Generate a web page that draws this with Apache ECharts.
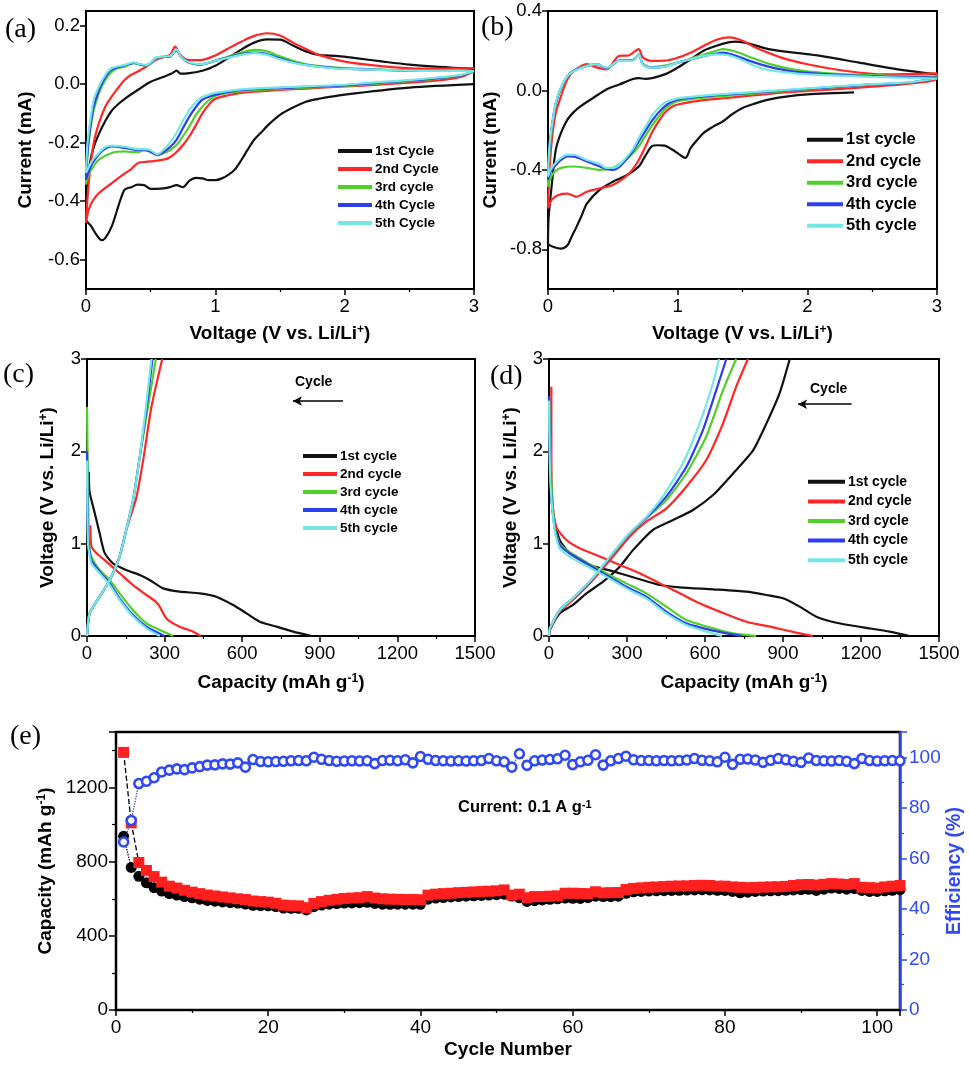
<!DOCTYPE html>
<html><head><meta charset="utf-8">
<script src="https://cdn.jsdelivr.net/npm/echarts@6/dist/echarts.min.js"></script>
<style>html,body{margin:0;padding:0;background:#fff}#c{width:969px;height:1065px}</style>
</head><body><div id="c"></div>
<script>
// ---------------- DATA ----------------
const legendA = ['1st Cycle','2nd Cycle','3rd cycle','4th Cycle','5th Cycle'];
const legendBCD = ['1st cycle','2nd cycle','3rd cycle','4th cycle','5th cycle'];

// (a) CV, [voltage, current]
const cvA1 = [[3.0,0.0],[2.5,-0.012],[2.0,-0.036],[1.8,-0.05],[1.7,-0.06],[1.6,-0.08],[1.5,-0.105],[1.42,-0.135],[1.35,-0.167],[1.3,-0.19],[1.25,-0.224],[1.2,-0.26],[1.15,-0.292],[1.1,-0.31],[1.05,-0.322],[1.0,-0.328],[0.95,-0.328],[0.9,-0.322],[0.85,-0.32],[0.8,-0.33],[0.75,-0.352],[0.7,-0.345],[0.65,-0.352],[0.6,-0.356],[0.5,-0.358],[0.45,-0.345],[0.4,-0.343],[0.35,-0.352],[0.3,-0.36],[0.27,-0.39],[0.25,-0.417],[0.2,-0.485],[0.15,-0.525],[0.12,-0.533],[0.08,-0.514],[0.04,-0.485],[0.0,-0.462],[0.01,-0.36],[0.03,-0.27],[0.06,-0.215],[0.1,-0.17],[0.15,-0.125],[0.2,-0.09],[0.25,-0.068],[0.3,-0.05],[0.4,-0.02],[0.5,0.008],[0.6,0.025],[0.67,0.038],[0.7,0.046],[0.73,0.036],[0.8,0.038],[0.9,0.046],[1.0,0.063],[1.1,0.09],[1.2,0.118],[1.3,0.142],[1.4,0.153],[1.5,0.152],[1.6,0.132],[1.7,0.112],[1.8,0.1],[1.95,0.096],[2.1,0.088],[2.3,0.077],[2.5,0.067],[2.7,0.06],[2.9,0.055],[3.0,0.052]];
const cvA2 = [[3.0,0.045],[2.9,0.025],[2.7,0.012],[2.5,0.005],[2.2,-0.003],[2.0,-0.008],[1.7,-0.015],[1.5,-0.02],[1.3,-0.026],[1.2,-0.03],[1.1,-0.038],[1.0,-0.05],[0.95,-0.07],[0.9,-0.1],[0.85,-0.14],[0.8,-0.178],[0.75,-0.208],[0.7,-0.232],[0.65,-0.25],[0.6,-0.258],[0.5,-0.264],[0.45,-0.266],[0.4,-0.27],[0.35,-0.29],[0.3,-0.305],[0.2,-0.338],[0.1,-0.372],[0.05,-0.4],[0.02,-0.43],[0.0,-0.474],[0.01,-0.4],[0.03,-0.3],[0.06,-0.2],[0.1,-0.133],[0.15,-0.076],[0.2,-0.042],[0.25,-0.012],[0.3,0.015],[0.35,0.032],[0.4,0.043],[0.45,0.055],[0.5,0.07],[0.55,0.085],[0.6,0.092],[0.65,0.1],[0.69,0.128],[0.72,0.106],[0.76,0.088],[0.8,0.082],[0.9,0.083],[1.0,0.098],[1.1,0.122],[1.2,0.145],[1.3,0.165],[1.4,0.174],[1.5,0.166],[1.6,0.142],[1.7,0.12],[1.8,0.1],[2.0,0.077],[2.3,0.061],[2.6,0.053],[3.0,0.055]];
const cvA3 = [[3.0,0.045],[2.9,0.03],[2.7,0.018],[2.5,0.01],[2.2,0.0],[2.0,-0.006],[1.7,-0.012],[1.5,-0.016],[1.2,-0.024],[1.1,-0.03],[1.0,-0.04],[0.95,-0.055],[0.9,-0.076],[0.85,-0.105],[0.8,-0.144],[0.75,-0.178],[0.7,-0.208],[0.65,-0.225],[0.6,-0.236],[0.55,-0.24],[0.5,-0.23],[0.45,-0.226],[0.4,-0.232],[0.35,-0.232],[0.3,-0.23],[0.2,-0.235],[0.1,-0.258],[0.05,-0.286],[0.02,-0.31],[0.0,-0.343],[0.01,-0.25],[0.03,-0.167],[0.06,-0.088],[0.1,-0.031],[0.15,0.015],[0.2,0.043],[0.25,0.055],[0.3,0.06],[0.37,0.072],[0.42,0.066],[0.47,0.064],[0.55,0.09],[0.6,0.093],[0.65,0.095],[0.7,0.117],[0.74,0.09],[0.8,0.072],[0.88,0.066],[1.0,0.08],[1.1,0.094],[1.2,0.108],[1.3,0.117],[1.4,0.112],[1.5,0.095],[1.6,0.08],[1.7,0.068],[1.85,0.06],[2.0,0.055],[2.5,0.047],[3.0,0.045]];
const cvA4 = [[3.0,0.045],[2.9,0.03],[2.7,0.02],[2.5,0.012],[2.2,0.003],[2.0,-0.004],[1.5,-0.013],[1.2,-0.02],[1.0,-0.036],[0.95,-0.043],[0.9,-0.053],[0.85,-0.078],[0.8,-0.11],[0.75,-0.15],[0.7,-0.19],[0.65,-0.215],[0.6,-0.232],[0.55,-0.243],[0.5,-0.232],[0.45,-0.224],[0.4,-0.225],[0.35,-0.222],[0.3,-0.218],[0.2,-0.213],[0.15,-0.22],[0.1,-0.24],[0.05,-0.27],[0.02,-0.3],[0.0,-0.326],[0.01,-0.24],[0.03,-0.155],[0.06,-0.075],[0.1,-0.02],[0.15,0.025],[0.2,0.05],[0.3,0.064],[0.37,0.073],[0.42,0.067],[0.47,0.065],[0.55,0.091],[0.65,0.095],[0.7,0.115],[0.74,0.09],[0.8,0.073],[0.88,0.067],[1.0,0.08],[1.1,0.092],[1.2,0.103],[1.3,0.108],[1.4,0.103],[1.5,0.088],[1.6,0.075],[1.7,0.066],[1.85,0.058],[2.0,0.053],[2.5,0.046],[3.0,0.045]];
const cvA5 = [[3.0,0.045],[2.9,0.032],[2.7,0.022],[2.5,0.014],[2.2,0.005],[2.0,-0.002],[1.5,-0.011],[1.2,-0.018],[1.0,-0.03],[0.95,-0.036],[0.9,-0.044],[0.85,-0.062],[0.8,-0.088],[0.75,-0.125],[0.7,-0.167],[0.65,-0.2],[0.6,-0.224],[0.55,-0.24],[0.5,-0.226],[0.45,-0.222],[0.4,-0.222],[0.35,-0.218],[0.3,-0.214],[0.2,-0.21],[0.15,-0.215],[0.1,-0.235],[0.05,-0.26],[0.02,-0.285],[0.0,-0.303],[0.01,-0.21],[0.03,-0.133],[0.06,-0.053],[0.1,-0.008],[0.15,0.032],[0.2,0.055],[0.3,0.066],[0.37,0.074],[0.42,0.068],[0.47,0.066],[0.55,0.092],[0.65,0.096],[0.7,0.118],[0.74,0.09],[0.8,0.074],[0.88,0.068],[1.0,0.08],[1.1,0.09],[1.2,0.1],[1.3,0.106],[1.4,0.1],[1.5,0.085],[1.6,0.073],[1.7,0.065],[1.85,0.057],[2.0,0.052],[2.5,0.046],[3.0,0.045]];

// (b) CV
const cvB1 = [[2.36,-0.01],[2.2,-0.014],[2.0,-0.02],[1.85,-0.03],[1.7,-0.046],[1.6,-0.065],[1.5,-0.088],[1.42,-0.12],[1.35,-0.155],[1.28,-0.18],[1.2,-0.214],[1.15,-0.25],[1.1,-0.29],[1.06,-0.34],[1.03,-0.33],[1.0,-0.316],[0.95,-0.295],[0.9,-0.278],[0.85,-0.276],[0.8,-0.282],[0.75,-0.33],[0.7,-0.383],[0.6,-0.43],[0.5,-0.46],[0.4,-0.5],[0.3,-0.57],[0.26,-0.63],[0.22,-0.687],[0.18,-0.74],[0.15,-0.78],[0.1,-0.797],[0.05,-0.79],[0.0,-0.77],[0.005,-0.64],[0.03,-0.47],[0.06,-0.3],[0.1,-0.214],[0.15,-0.147],[0.2,-0.108],[0.25,-0.08],[0.35,-0.037],[0.45,0.005],[0.55,0.03],[0.65,0.056],[0.7,0.062],[0.75,0.058],[0.9,0.081],[1.0,0.115],[1.1,0.157],[1.2,0.2],[1.3,0.225],[1.4,0.243],[1.45,0.246],[1.55,0.236],[1.7,0.208],[1.9,0.19],[2.1,0.174],[2.4,0.14],[2.7,0.106],[3.0,0.081]];
const cvB2 = [[3.0,0.086],[3.0,0.06],[2.8,0.035],[2.5,0.019],[2.2,0.005],[2.0,-0.003],[1.7,-0.017],[1.4,-0.037],[1.2,-0.049],[1.0,-0.071],[0.95,-0.085],[0.9,-0.113],[0.85,-0.16],[0.8,-0.214],[0.75,-0.285],[0.7,-0.35],[0.65,-0.4],[0.6,-0.434],[0.5,-0.476],[0.4,-0.493],[0.3,-0.51],[0.22,-0.535],[0.15,-0.52],[0.08,-0.527],[0.03,-0.55],[0.0,-0.594],[0.01,-0.417],[0.03,-0.248],[0.06,-0.113],[0.1,-0.029],[0.15,0.056],[0.2,0.098],[0.3,0.132],[0.38,0.115],[0.45,0.106],[0.55,0.174],[0.62,0.176],[0.7,0.208],[0.73,0.168],[0.8,0.149],[0.9,0.15],[1.0,0.165],[1.1,0.19],[1.2,0.224],[1.3,0.255],[1.4,0.267],[1.5,0.25],[1.6,0.216],[1.8,0.165],[2.0,0.132],[2.3,0.098],[2.6,0.081],[3.0,0.086]];
const cvB3 = [[3.0,0.07],[2.8,0.04],[2.5,0.03],[2.0,0.005],[1.5,-0.02],[1.2,-0.037],[1.0,-0.054],[0.95,-0.07],[0.9,-0.096],[0.85,-0.135],[0.8,-0.18],[0.75,-0.23],[0.7,-0.282],[0.65,-0.32],[0.6,-0.35],[0.5,-0.39],[0.4,-0.4],[0.3,-0.39],[0.2,-0.383],[0.1,-0.39],[0.05,-0.41],[0.02,-0.44],[0.0,-0.485],[0.01,-0.33],[0.03,-0.19],[0.06,-0.07],[0.1,0.01],[0.15,0.07],[0.2,0.1],[0.3,0.125],[0.38,0.13],[0.45,0.11],[0.55,0.15],[0.65,0.152],[0.7,0.18],[0.73,0.135],[0.8,0.118],[0.9,0.125],[1.0,0.14],[1.1,0.16],[1.2,0.18],[1.3,0.2],[1.35,0.208],[1.45,0.195],[1.55,0.17],[1.7,0.135],[1.9,0.105],[2.2,0.085],[2.6,0.075],[3.0,0.07]];
const cvB4 = [[3.0,0.065],[2.8,0.04],[2.5,0.03],[2.0,0.008],[1.5,-0.015],[1.2,-0.03],[1.0,-0.046],[0.95,-0.058],[0.9,-0.08],[0.85,-0.113],[0.8,-0.155],[0.75,-0.205],[0.7,-0.257],[0.65,-0.31],[0.6,-0.35],[0.55,-0.385],[0.5,-0.4],[0.45,-0.395],[0.4,-0.383],[0.3,-0.358],[0.2,-0.333],[0.15,-0.332],[0.1,-0.35],[0.05,-0.383],[0.02,-0.41],[0.0,-0.45],[0.01,-0.3],[0.03,-0.18],[0.06,-0.065],[0.1,0.012],[0.15,0.072],[0.2,0.1],[0.3,0.123],[0.38,0.132],[0.45,0.112],[0.55,0.15],[0.65,0.151],[0.7,0.182],[0.73,0.133],[0.8,0.115],[0.9,0.12],[1.0,0.14],[1.1,0.156],[1.2,0.172],[1.3,0.185],[1.35,0.19],[1.45,0.175],[1.55,0.15],[1.7,0.12],[1.9,0.095],[2.2,0.08],[2.6,0.07],[3.0,0.065]];
const cvB5 = [[3.0,0.06],[2.8,0.042],[2.5,0.032],[2.0,0.01],[1.5,-0.012],[1.2,-0.026],[1.0,-0.04],[0.95,-0.05],[0.9,-0.062],[0.85,-0.09],[0.8,-0.13],[0.75,-0.185],[0.7,-0.24],[0.65,-0.3],[0.6,-0.34],[0.55,-0.375],[0.5,-0.39],[0.45,-0.39],[0.4,-0.372],[0.3,-0.35],[0.2,-0.324],[0.15,-0.323],[0.1,-0.34],[0.05,-0.372],[0.02,-0.4],[0.0,-0.434],[0.01,-0.29],[0.03,-0.18],[0.06,-0.062],[0.1,0.014],[0.15,0.073],[0.2,0.098],[0.3,0.123],[0.38,0.132],[0.45,0.115],[0.55,0.149],[0.65,0.149],[0.7,0.182],[0.73,0.132],[0.8,0.115],[0.9,0.12],[1.0,0.14],[1.1,0.157],[1.2,0.174],[1.3,0.182],[1.4,0.176],[1.5,0.152],[1.6,0.122],[1.7,0.103],[1.85,0.09],[2.0,0.081],[2.5,0.069],[3.0,0.06]];

// (c) charge/discharge, [capacity, voltage]
const gcC1dis = [[7,1.78],[10,1.56],[30,1.33],[49,1.11],[68,0.9],[100,0.787],[152,0.715],[204,0.66],[242,0.607],[294,0.516],[358,0.48],[436,0.462],[500,0.426],[565,0.336],[617,0.245],[668,0.155],[733,0.101],[797,0.047],[868,0.0]];
const gcC2dis = [[13,1.2],[17,0.97],[36,0.9],[75,0.805],[126,0.68],[178,0.552],[230,0.444],[262,0.38],[281,0.318],[307,0.19],[358,0.1],[410,0.047],[440,0]];
const gcC3dis = [[0,2.48],[4,1.6],[8,1.0],[17,0.86],[49,0.715],[88,0.607],[126,0.462],[178,0.28],[230,0.137],[281,0.065],[333,0]];
const gcC4dis = [[0,2.0],[5,1.04],[17,0.82],[49,0.697],[88,0.57],[126,0.408],[178,0.227],[230,0.101],[300,0]];
const gcC5dis = [[0,1.9],[4,1.0],[17,0.787],[49,0.68],[88,0.552],[126,0.39],[178,0.21],[230,0.083],[281,0]];
const gcC2chg = [[0,0],[10,0.245],[49,0.426],[88,0.607],[126,0.86],[152,1.15],[178,1.38],[191,1.5],[217,1.9],[249,2.48],[291,3.0]];
const gcC3chg = [[0,0],[10,0.245],[49,0.426],[88,0.607],[126,0.86],[152,1.15],[178,1.47],[204,1.94],[232,2.42],[266,3.0]];
const gcC4chg = [[0,0],[10,0.245],[49,0.426],[88,0.607],[126,0.86],[152,1.15],[178,1.47],[204,1.94],[230,2.46],[253,3.0]];
const gcC5chg = [[0,0],[10,0.245],[49,0.426],[88,0.607],[126,0.86],[152,1.15],[178,1.47],[204,1.94],[228,2.48],[249,3.0]];

// (d)
const gcD1dis = [[0,2.6],[5,1.76],[15,1.33],[41,1.04],[79,0.9],[156,0.77],[246,0.7],[336,0.625],[426,0.552],[503,0.527],[631,0.505],[759,0.48],[836,0.444],[900,0.408],[964,0.318],[1028,0.209],[1105,0.144],[1208,0.094],[1310,0.047],[1387,0]];
const gcD2dis = [[9,2.7],[9,1.98],[13,1.47],[28,1.18],[67,1.04],[118,0.95],[195,0.86],[272,0.77],[349,0.68],[426,0.57],[503,0.462],[579,0.354],[656,0.264],[759,0.155],[862,0.094],[951,0.036],[1015,0]];
const gcD3dis = [[0,2.6],[9,1.69],[22,1.18],[41,1.0],[79,0.91],[144,0.8],[220,0.68],[297,0.57],[374,0.462],[451,0.318],[528,0.173],[631,0.083],[708,0.029],[797,0]];
const gcD4dis = [[0,2.6],[6,1.69],[22,1.16],[41,0.985],[79,0.895],[144,0.787],[220,0.66],[297,0.534],[374,0.426],[451,0.264],[528,0.137],[631,0.058],[740,0]];
const gcD5dis = [[0,2.55],[5,1.69],[22,1.14],[41,0.95],[79,0.86],[144,0.758],[220,0.643],[297,0.516],[374,0.408],[451,0.245],[528,0.119],[605,0.047],[665,0]];
const gcD1chg = [[0,0],[3,0.065],[41,0.245],[92,0.336],[144,0.462],[208,0.588],[272,0.75],[323,0.93],[400,1.15],[477,1.256],[554,1.365],[631,1.527],[708,1.76],[785,2.01],[836,2.3],[887,2.63],[926,3.0]];
const gcD2chg = [[0,0],[3,0.065],[41,0.264],[92,0.39],[169,0.607],[246,0.86],[310,1.076],[374,1.238],[451,1.38],[528,1.617],[605,1.906],[669,2.3],[720,2.7],[765,3.0]];
const gcD3chg = [[0,0],[3,0.08],[41,0.28],[92,0.408],[169,0.625],[246,0.895],[310,1.11],[374,1.274],[451,1.47],[528,1.76],[605,2.16],[669,2.66],[720,3.0]];
const gcD4chg = [[0,0],[3,0.08],[41,0.28],[92,0.408],[169,0.625],[246,0.895],[310,1.11],[374,1.28],[451,1.51],[528,1.83],[592,2.23],[643,2.66],[682,3.0]];
const gcD5chg = [[0,0],[3,0.08],[41,0.28],[92,0.41],[169,0.63],[246,0.9],[310,1.115],[374,1.29],[438,1.51],[515,1.87],[579,2.3],[631,2.74],[654,3.0]];

// (e) cycling, cycle n = index + 1
const capRed = [1390,1010,796,753,720,690,668,658,646,636,628,620,615,610,605,600,596,588,585,582,576,566,563,562,552,575,585,592,597,602,604,606,612,604,600,598,597,596,596,595,620,625,628,630,633,635,637,639,641,643,648,620,625,606,612,612,614,616,630,630,629,628,638,632,633,634,650,656,659,662,664,666,668,669,670,672,673,672,668,668,664,662,660,661,663,664,665,667,672,676,677,674,678,682,680,677,682,662,660,658,664,668,672];
const capBlack = [937,769,721,686,660,642,628,620,612,605,598,591,587,583,580,577,572,565,563,562,558,550,549,549,540,558,566,571,574,577,578,579,581,575,571,570,571,571,571,570,598,604,607,610,612,614,616,618,620,622,625,615,605,586,590,594,597,600,604,603,602,606,614,612,612,614,630,638,640,642,643,644,645,646,647,648,649,648,646,645,640,632,636,640,642,643,644,646,648,650,651,645,652,658,656,652,655,645,640,640,643,646,649];
const efficiency = [66.5,75,89.6,90.5,91.9,94.2,94.9,95.4,95.1,95.8,96.3,96.9,97.0,97.4,97.3,97.8,96.1,99.1,98.3,98.2,98.3,98.4,98.6,98.7,98.6,100.0,99.2,98.7,98.4,98.5,98.6,98.5,98.6,97.5,98.7,98.8,98.6,99.0,97.8,100.3,99.2,98.7,98.6,98.5,98.6,98.5,98.6,98.7,99.5,98.6,98.2,96.1,101.4,96.8,98.6,98.9,99.1,99.4,100.8,97.1,98.2,98.8,101.0,96.9,98.6,99.5,100.4,99.0,98.7,98.7,98.6,98.7,98.6,98.7,98.9,99.5,98.8,98.6,98.2,100.0,97.2,99.2,99.3,98.9,98.0,98.8,99.5,99.0,98.4,98.0,99.7,98.7,98.6,98.5,98.7,98.4,97.5,99.5,98.7,98.5,98.6,98.7,98.6];

// ---------------- STYLE ----------------
const SANS = '"Liberation Sans", Arial, sans-serif';
const SERIF = '"Liberation Serif", "Times New Roman", serif';
const COLORS = ['#111111','#ff2626','#4fd12a','#2d3ef2','#74e6e6'];
const EBLUE = '#3049f2';
const TICKFS = 18.5;
const NAMEFS = 19;

const supRich = {sup:{fontSize:12,fontWeight:'bold',fontFamily:SANS,color:'#000',verticalAlign:'top',lineHeight:12}};
const plain = v => String(v);

function xAx(grid, min, max, interval, name, gap, extra){
  return Object.assign({
    type:'value', gridIndex:grid, min:min, max:max, interval:interval,
    axisLine:{show:true,onZero:false,lineStyle:{color:'#000',width:2}},
    axisTick:{show:true,length:6,lineStyle:{color:'#000',width:1.5}},
    minorTick:{show:true,splitNumber:2,length:3,lineStyle:{color:'#000',width:1.2}},
    axisLabel:{color:'#000',fontSize:TICKFS,fontFamily:SANS,margin:8,formatter:plain},
    splitLine:{show:false},
    name:name, nameLocation:'middle', nameGap:gap,
    nameTextStyle:{color:'#000',fontSize:NAMEFS,fontWeight:'bold',fontFamily:SANS,rich:supRich}
  }, extra||{});
}
function yAx(grid, min, max, interval, name, gap, extra){
  return Object.assign({
    type:'value', gridIndex:grid, min:min, max:max, interval:interval,
    axisLine:{show:true,onZero:false,lineStyle:{color:'#000',width:2}},
    axisTick:{show:true,length:6,lineStyle:{color:'#000',width:1.5}},
    axisLabel:{color:'#000',fontSize:TICKFS,fontFamily:SANS,margin:6,formatter:plain},
    splitLine:{show:false},
    name:name, nameLocation:'middle', nameGap:gap, nameRotate:90,
    nameTextStyle:{color:'#000',fontSize:NAMEFS,fontWeight:'bold',fontFamily:SANS,rich:supRich}
  }, extra||{});
}
function line(name, data, color, idx, extra){
  return Object.assign({
    type:'line', name:name, data:data, xAxisIndex:idx, yAxisIndex:idx,
    symbol:'none', smooth:0.3, lineStyle:{color:color,width:2.2}, itemStyle:{color:color},
    z:3
  }, extra||{});
}
function legend(names, left, top, iw, fs, lh){
  return {
    data:names, orient:'vertical', left:left, top:top, itemWidth:iw, itemHeight:4, itemGap:0,
    icon:'rect', selectedMode:false, padding:0,
    textStyle:{color:'#000',fontSize:fs,fontWeight:'bold',fontFamily:SANS,lineHeight:lh,padding:[0,0,0,-2]}
  };
}
function grid(left, top, width, height, bw){
  return {left:left,top:top,width:width,height:height,show:true,borderColor:'#000',borderWidth:bw,
    backgroundColor:'transparent',containLabel:false,outerBoundsMode:'none'};
}

const cvAll = {a:[cvA1,cvA2,cvA3,cvA4,cvA5], b:[cvB1,cvB2,cvB3,cvB4,cvB5]};
const disC = [gcC1dis,gcC2dis,gcC3dis,gcC4dis,gcC5dis];
const chgC = [null,gcC2chg,gcC3chg,gcC4chg,gcC5chg];
const disD = [gcD1dis,gcD2dis,gcD3dis,gcD4dis,gcD5dis];
const chgD = [gcD1chg,gcD2chg,gcD3chg,gcD4chg,gcD5chg];

const series = [];
for (let i=0;i<5;i++) series.push(line(legendA[i], cvAll.a[i], COLORS[i], 0));
for (let i=0;i<5;i++) series.push(line(legendBCD[i], cvAll.b[i], COLORS[i], 1));
for (let i=0;i<5;i++) {
  series.push(line(legendBCD[i], disC[i], COLORS[i], 2, {smooth:0.2}));
  if (chgC[i]) series.push(line(legendBCD[i], chgC[i], COLORS[i], 2, {smooth:0.2}));
}
for (let i=0;i<5;i++) {
  series.push(line(legendBCD[i], disD[i], COLORS[i], 3, {smooth:0.2}));
  series.push(line(legendBCD[i], chgD[i], COLORS[i], 3, {smooth:0.2}));
}
// arrows in (c) and (d)
const arrowLine = (x1,x2,y) => ({
  silent:true, symbol:['none','arrow'], symbolSize:[7,9],
  lineStyle:{color:'#000',width:1.5,type:'solid'}, label:{show:false},
  data:[[{coord:[x1,y]},{coord:[x2,y]}]]
});
series.push({type:'line',name:'arrowC',data:[],xAxisIndex:2,yAxisIndex:2,markLine:arrowLine(990,796,2.545)});
series.push({type:'line',name:'arrowD',data:[],xAxisIndex:3,yAxisIndex:3,markLine:arrowLine(1164,958,2.51)});

// (e)
const pairs = arr => arr.map((v,i)=>[i+1,v]);
series.push({type:'line',name:'Capacity (black)',data:pairs(capBlack),xAxisIndex:4,yAxisIndex:4,
  symbol:'circle',symbolSize:11,showAllSymbol:true,itemStyle:{color:'#000'},
  lineStyle:{color:'#000',width:1.3,type:'dotted'},z:3});
series.push({type:'line',name:'Capacity (red)',data:pairs(capRed),xAxisIndex:4,yAxisIndex:4,
  symbol:'rect',symbolSize:11,showAllSymbol:true,itemStyle:{color:'#ff1f1f'},
  lineStyle:{color:'#000',width:1.3,type:'dashed'},z:4});
series.push({type:'line',name:'Efficiency',data:pairs(efficiency),xAxisIndex:4,yAxisIndex:5,
  symbol:'circle',symbolSize:9,showAllSymbol:true,itemStyle:{color:'#fff',borderColor:EBLUE,borderWidth:2.6},
  lineStyle:{color:EBLUE,width:1.3,type:'dotted'},z:5});

const fmt1 = v => Number(v).toFixed(1);

const option = {
  animation:false,
  backgroundColor:'#fff',
  grid:[
    grid(86,11,388,278,2),
    grid(548,11,389,278,2),
    grid(87,359,388,277,2),
    grid(549,359,390,277,2),
    grid(116,732,784,278,2.5)
  ],
  xAxis:[
    xAx(0,0,3,1,'Voltage (V vs. Li/Li{sup|+})',35),
    xAx(1,0,3,1,'Voltage (V vs. Li/Li{sup|+})',35),
    xAx(2,0,1500,300,'Capacity (mAh g{sup|-1})',37),
    xAx(3,0,1500,300,'Capacity (mAh g{sup|-1})',37),
    xAx(4,0,103,20,'Cycle Number',30,{axisLabel:{color:'#000',fontSize:19,fontFamily:SANS,margin:8,showMaxLabel:false,formatter:plain}})
  ],
  yAxis:[
    yAx(0,-0.7,0.25,null,'Current (mA)',51,{
      axisLabel:{color:'#000',fontSize:TICKFS,fontFamily:SANS,margin:6,customValues:[-0.6,-0.4,-0.2,0,0.2],formatter:fmt1},
      axisTick:{show:true,length:6,lineStyle:{color:'#000',width:1.5},customValues:[-0.6,-0.4,-0.2,0,0.2]}}),
    yAx(1,-1.0,0.4,null,'Current (mA)',48,{
      axisLabel:{color:'#000',fontSize:TICKFS,fontFamily:SANS,margin:6,customValues:[-0.8,-0.4,0,0.4],formatter:fmt1},
      axisTick:{show:true,length:6,lineStyle:{color:'#000',width:1.5},customValues:[-0.8,-0.4,0,0.4]}}),
    yAx(2,0,3,1,'Voltage (V vs. Li/Li{sup|+})',30),
    yAx(3,0,3,1,'Voltage (V vs. Li/Li{sup|+})',29),
    yAx(4,0,1500,400,'Capacity (mAh g{sup|-1})',58,{
      axisLabel:{color:'#000',fontSize:19,fontFamily:SANS,margin:8,showMaxLabel:false,formatter:plain},
      axisTick:{show:true,length:7,lineStyle:{color:'#000',width:1.5}},
      minorTick:{show:true,splitNumber:2,length:4,lineStyle:{color:'#000',width:1.2}}}),
    yAx(4,0,110,20,'Efficiency (%)',45,{
      position:'right', nameRotate:90, nameMoveOverlap:false,
      axisLine:{show:true,onZero:false,lineStyle:{color:EBLUE,width:2.5}},
      axisTick:{show:true,length:7,lineStyle:{color:EBLUE,width:1.5}},
      minorTick:{show:true,splitNumber:2,length:4,lineStyle:{color:EBLUE,width:1.2}},
      axisLabel:{color:EBLUE,fontSize:19,fontFamily:SANS,margin:9,showMaxLabel:false,formatter:plain},
      nameTextStyle:{color:EBLUE,fontSize:19.5,fontWeight:'bold',fontFamily:SANS}})
  ],
  legend:[
    legend(legendA,338,142,34,13.5,18),
    legend(legendBCD,807,129,36,16.5,21.5),
    legend(legendBCD,303,447,34,13.5,18),
    legend(legendBCD,808,472,37,14,19.6)
  ],
  graphic:[
    {type:'text',left:5,top:16,style:{text:'(a)',font:'28px '+SERIF,fill:'#000'}},
    {type:'text',left:481,top:14,style:{text:'(b)',font:'28px '+SERIF,fill:'#000'}},
    {type:'text',left:3,top:361,style:{text:'(c)',font:'28px '+SERIF,fill:'#000'}},
    {type:'text',left:490,top:363,style:{text:'(d)',font:'28px '+SERIF,fill:'#000'}},
    {type:'text',left:10,top:723,style:{text:'(e)',font:'28px '+SERIF,fill:'#000'}},
    {type:'text',left:295,top:375,style:{text:'Cycle',font:'bold 14px '+SANS,fill:'#000'}},
    {type:'text',left:810,top:382,style:{text:'Cycle',font:'bold 14px '+SANS,fill:'#000'}},
    {type:'text',left:458,top:799,style:{text:'Current: 0.1 A g{sup|-1}',fontSize:16.5,fontWeight:'bold',fontFamily:SANS,fill:'#000',
      rich:{sup:{fontSize:11,fontWeight:'bold',fontFamily:SANS,fill:'#000',verticalAlign:'top',lineHeight:11}}}}
  ],
  series:series
};
const chart = echarts.init(document.getElementById('c'), null, {renderer:'canvas'});
chart.setOption(option);
</script>
</body></html>
